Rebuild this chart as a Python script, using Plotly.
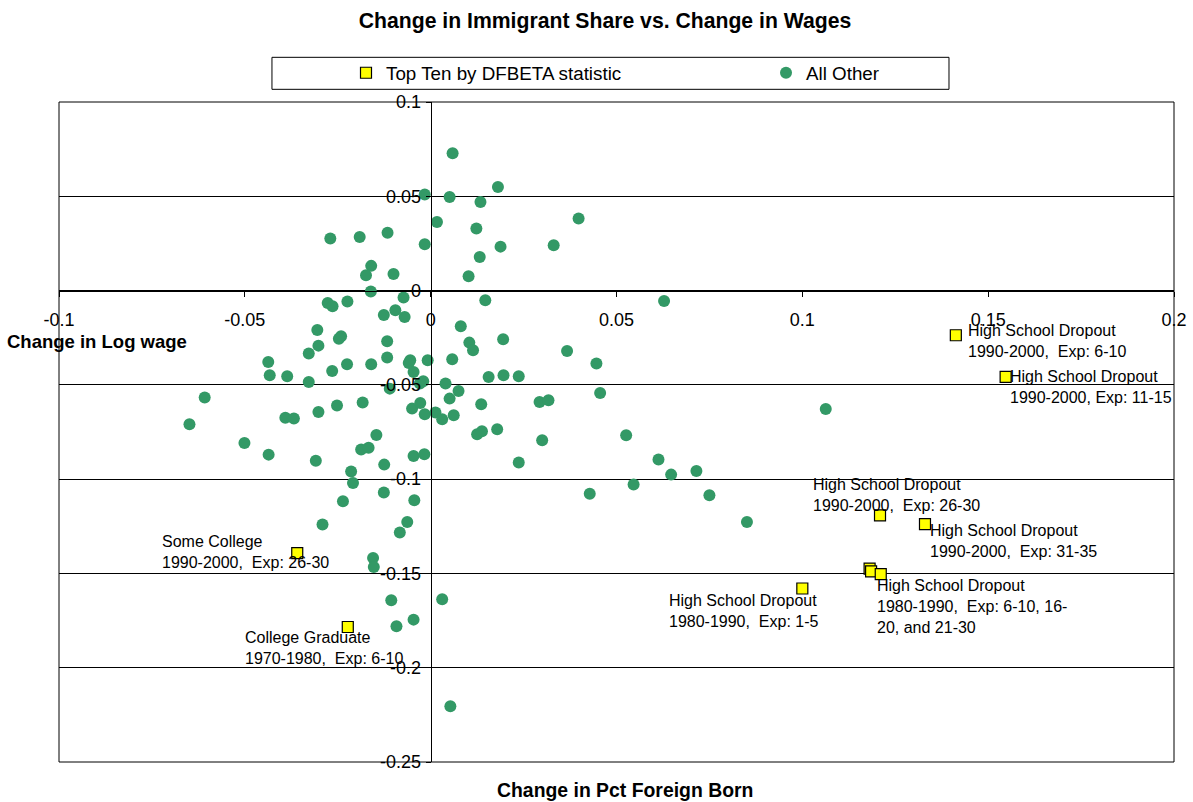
import plotly.graph_objects as go

# ---- data -------------------------------------------------------------
# All other skill/decade/experience cells: change in pct foreign born (x)
# and change in log wage (y)
other_x = [
    -0.0016, 0.0017, -0.0270, -0.0191, -0.0116, -0.0016, -0.0160, -0.0174, -0.0100, -0.0161,
    -0.0277, -0.0264, -0.0224, -0.0073, -0.0126, -0.0095, -0.0070, -0.0305, -0.0241, -0.0247,
    -0.0117, 0.0059, 0.0051, 0.0181, 0.0134, 0.0123, 0.0188, 0.0331, 0.0398, 0.0132,
    0.0102, 0.0147, 0.0628, 0.0081, 0.0104, 0.0114, 0.0195, 0.0367, 0.0446, -0.0302,
    -0.0328, -0.0437, -0.0433, -0.0386, -0.0328, -0.0265, -0.0225, -0.0160, -0.0117, -0.0055,
    -0.0059, -0.0008, -0.0046, -0.0020, -0.0029, -0.0110, -0.0608, -0.0649, -0.0501, -0.0436,
    -0.0391, -0.0368, -0.0302, -0.0252, -0.0183, -0.0146, -0.0187, -0.0167, -0.0309, -0.0125,
    -0.0046, -0.0017, -0.0214, -0.0209, -0.0126, -0.0044, -0.0236, -0.0291, -0.0063, -0.0083,
    -0.0050, -0.0028, -0.0016, 0.0013, 0.0031, 0.0062, 0.0058, 0.0040, 0.0075, 0.0051,
    0.0156, 0.0196, 0.0237, 0.0456, 0.0293, 0.0317, 0.0136, 0.0125, 0.0138, 0.0179,
    0.0300, 0.0526, 0.0237, 0.0613, 0.0647, 0.0715, 0.0546, 0.0428, 0.0750, 0.0851,
    0.1063, -0.0155, -0.0153, -0.0106, -0.0092, -0.0046, 0.0031, 0.0053,
]
other_y = [
    0.0509, 0.0364, 0.0276, 0.0284, 0.0307, 0.0246, 0.0131, 0.0081, 0.0088, -0.0005,
    -0.0066, -0.0083, -0.0058, -0.0037, -0.0129, -0.0104, -0.0140, -0.0209, -0.0242, -0.0255,
    -0.0269, 0.0728, 0.0496, 0.0549, 0.0470, 0.0329, 0.0233, 0.0240, 0.0382, 0.0178,
    0.0076, -0.0051, -0.0055, -0.0189, -0.0276, -0.0317, -0.0258, -0.0320, -0.0387, -0.0292,
    -0.0334, -0.0379, -0.0449, -0.0454, -0.0485, -0.0426, -0.0391, -0.0391, -0.0355, -0.0370,
    -0.0384, -0.0370, -0.0432, -0.0481, -0.0493, -0.0520, -0.0567, -0.0709, -0.0808, -0.0870,
    -0.0674, -0.0679, -0.0644, -0.0610, -0.0594, -0.0766, -0.0843, -0.0833, -0.0902, -0.0923,
    -0.0877, -0.0868, -0.0960, -0.1020, -0.1071, -0.1112, -0.1117, -0.1241, -0.1227, -0.1283,
    -0.0626, -0.0596, -0.0656, -0.0647, -0.0682, -0.0661, -0.0364, -0.0493, -0.0532, -0.0573,
    -0.0458, -0.0449, -0.0454, -0.0543, -0.0591, -0.0582, -0.0603, -0.0762, -0.0746, -0.0736,
    -0.0794, -0.0767, -0.0912, -0.0896, -0.0976, -0.0957, -0.1029, -0.1077, -0.1086, -0.1227,
    -0.0628, -0.1418, -0.1466, -0.1642, -0.1780, -0.1745, -0.1637, -0.2204,
]

# Ten most influential observations by DFBETA statistic
top_x = [0.1413, 0.1547, 0.1209, 0.1330, 0.1181, 0.1185, 0.1211, 0.1000, -0.0359, -0.0223]
top_y = [-0.0237, -0.0458, -0.1192, -0.1239, -0.1474, -0.1489, -0.1504, -0.1580, -0.1392, -0.1784]

# Cell descriptions; each is attached to one of the top-ten points (by index)
top_labels = [
    "High School Dropout<br>1990-2000,  Exp: 6-10",
    "High School Dropout<br>1990-2000, Exp: 11-15",
    "High School Dropout<br>1990-2000,  Exp: 26-30",
    "High School Dropout<br>1990-2000,  Exp: 31-35",
    "High School Dropout<br>1980-1990,  Exp: 6-10, 16-<br>20, and 21-30",
    "High School Dropout<br>1980-1990,  Exp: 1-5",
    "Some College<br>1990-2000,  Exp: 26-30",
    "College Graduate<br>1970-1980,  Exp: 6-10",
]
top_label_point = [0, 1, 2, 3, 6, 7, 8, 9]

x_tickvals = [-0.1, -0.05, 0, 0.05, 0.1, 0.15, 0.2]
x_ticktext = ["-0.1", "-0.05", "0", "0.05", "0.1", "0.15", "0.2"]
y_tickvals = [0.1, 0.05, 0, -0.05, -0.1, -0.15, -0.2, -0.25]
y_ticktext = ["0.1", "0.05", "0", "-0.05", "-0.1", "-0.15", "-0.2", "-0.25"]

# ---- placement of the point labels (anchor side, pixel shifts) --------
label_place = [
    ("left", 10, -5.5),
    ("left", 2, -10.5),
    ("left", -69, 20),
    ("left", 3, -17),
    ("left", -6, -32),
    ("right", 18.7, -22),
    ("left", -137, 1),
    ("left", -105, -21),
]

FONT = "Liberation Sans, Arial, sans-serif"
X_RANGE = [-0.1, 0.2]
Y_RANGE = [-0.25, 0.1]

fig = go.Figure()

fig.add_trace(go.Scatter(
    x=other_x, y=other_y, mode="markers", name="All Other",
    marker=dict(symbol="circle", size=12, color="#339966", line=dict(width=0)),
    legendrank=2,
))
fig.add_trace(go.Scatter(
    x=top_x, y=top_y, mode="markers", name="Top Ten by DFBETA statistic",
    marker=dict(symbol="square", size=11, color="#FFFF00",
                line=dict(color="black", width=1.2)),
    legendrank=1,
))

annotations = []
for text, idx, (side, dx, dy) in zip(top_labels, top_label_point, label_place):
    annotations.append(dict(
        x=top_x[idx], y=top_y[idx], xref="x", yref="y", text=text,
        showarrow=False, xanchor=side, yanchor="middle", align="left",
        xshift=dx, yshift=dy, font=dict(family=FONT, size=16, color="black"),
    ))

# axis titles
annotations.append(dict(
    x=-0.0484, y=0.6367, xref="paper", yref="paper", text="Change in Log wage",
    showarrow=False, xanchor="left", yanchor="middle",
    font=dict(family=FONT, size=18.5, color="black", weight="bold"),
))
annotations.append(dict(
    x=0.508, y=-0.043, xref="paper", yref="paper", text="Change in Pct Foreign Born",
    showarrow=False, xanchor="center", yanchor="middle",
    font=dict(family=FONT, size=19.4, color="black", weight="bold"),
))

# axes cross at the origin
x_cross = (0 - X_RANGE[0]) / (X_RANGE[1] - X_RANGE[0])
y_cross = (0 - Y_RANGE[0]) / (Y_RANGE[1] - Y_RANGE[0])

fig.update_layout(
    template="none",
    width=1193, height=802,
    margin=dict(l=59, r=19, t=102, b=40, pad=0, autoexpand=False),
    paper_bgcolor="white", plot_bgcolor="white",
    font=dict(family=FONT, color="black"),
    title=dict(
        text="Change in Immigrant Share vs. Change in Wages",
        x=0.4897, xref="paper", xanchor="center",
        y=1 - 21 / 802, yref="container", yanchor="middle",
        font=dict(family=FONT, size=21.2, color="black", weight="bold"),
    ),
    showlegend=True,
    legend=dict(
        orientation="h", x=0.2574, xanchor="left", y=1.0439, yanchor="middle",
        font=dict(family=FONT, size=18.8, color="black"),
        bgcolor="rgba(0,0,0,0)", borderwidth=0,
        entrywidth=375, entrywidthmode="pixels", itemsizing="trace",
    ),
    xaxis=dict(
        range=X_RANGE, anchor="free", position=y_cross, automargin=False,
        showline=True, linecolor="black", linewidth=1,
        ticks="outside", ticklen=5, tickcolor="black", tickwidth=1,
        tickvals=x_tickvals, ticktext=x_ticktext,
        tickfont=dict(family=FONT, size=18, color="black"),
        ticklabelstandoff=8,
        showgrid=False, zeroline=False,
    ),
    yaxis=dict(
        range=Y_RANGE, anchor="free", position=x_cross, automargin=False,
        showline=True, linecolor="black", linewidth=1,
        ticks="outside", ticklen=5, tickcolor="black", tickwidth=1,
        tickvals=y_tickvals, ticktext=y_ticktext,
        tickfont=dict(family=FONT, size=18, color="black"),
        ticklabelstandoff=1,
        showgrid=True, gridcolor="black", gridwidth=1, zeroline=False,
    ),
    annotations=annotations,
    shapes=[
        # plot frame
        dict(type="rect", xref="paper", yref="paper", x0=0, y0=0, x1=1, y1=1,
             line=dict(color="black", width=1), layer="above"),
        # legend box
        dict(type="rect", xref="paper", yref="paper",
             x0=0.1910, x1=0.7982, y0=1.0192, y1=1.0677,
             line=dict(color="black", width=1)),
    ],
)

fig.write_html("out.html")
